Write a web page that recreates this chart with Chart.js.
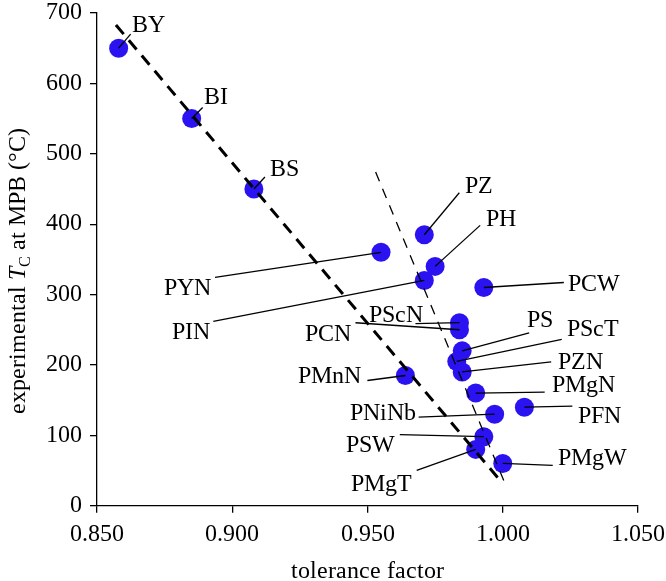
<!DOCTYPE html>
<html>
<head>
<meta charset="utf-8">
<script src="https://cdn.jsdelivr.net/npm/chart.js@4.4.0/dist/chart.umd.min.js"></script>
<style>
  @font-face {
    font-family: 'PlotSerif';
    src: local('Liberation Serif'), local('LiberationSerif'), local('LiberationSerif-Regular'), local('Times New Roman');
    font-style: normal;
  }
  @font-face {
    font-family: 'PlotSerif';
    src: local('Liberation Serif Italic'), local('LiberationSerif-Italic');
    font-style: italic;
  }
  html, body { margin: 0; padding: 0; background: #fff; }
  #wrap { width: 666px; height: 581px; }
</style>
</head>
<body>
<div id="wrap"><canvas id="chart"></canvas></div>
<script>
const compounds = ['BY', 'BI', 'BS', 'PZ', 'PYN', 'PH', 'PIN', 'PCW', 'PScN', 'PCN',
  'PS', 'PScT', 'PZN', 'PMnN', 'PMgN', 'PNiNb', 'PFN', 'PSW', 'PMgT', 'PMgW'];
const tolerance = [0.858, 0.885, 0.908, 0.971, 0.955, 0.975, 0.971, 0.993, 0.984, 0.984,
  0.985, 0.983, 0.985, 0.964, 0.990, 0.997, 1.008, 0.993, 0.990, 1.000];
const tcMPB = [650, 550, 450, 385, 360, 340, 320, 310, 260, 250,
  220, 205, 190, 185, 160, 130, 140, 98, 80, 60];

const xTicks = [0.850, 0.900, 0.950, 1.000, 1.050];
const yTicks = [0, 100, 200, 300, 400, 500, 600, 700];

// the two dashed guide lines
const trendX = [0.857, 0.999];
const trendY = [683, 36];
const steepX = [0.953, 1.001];
const steepY = [474, 30];

// leader line end (dx, dy) and label anchor (dx, dy, align), px from the point
const labelPlace = {
  BY:    [12, -14, 13, -16, 'left'],
  BI:    [11, -11, 12, -15, 'left'],
  BS:    [11, -12, 16, -13, 'left'],
  PZ:    [35, -42, 41, -42, 'left'],
  PH:    [45, -41, 51, -40, 'left'],
  PCW:   [80, -5, 84, 3, 'left'],
  PYN:   [-166, 25, -170, 43, 'right'],
  PIN:   [-211, 41, -214, 59, 'right'],
  PScN:  [-44, 1, -90, -1, 'left'],
  PCN:   [-104, -7, -108, 11, 'right'],
  PMnN:  [-38, 5, -44, 8, 'right'],
  PS:    [67, -18, 65, -24, 'left'],
  PScT:  [105, -22, 110, -25, 'left'],
  PZN:   [89, -10, 96, -3, 'left'],
  PMgN:  [69, -1, 76, -1, 'left'],
  PFN:   [48, -1, 54, 16, 'left'],
  PMgW:  [50, 2, 55, 2, 'left'],
  PNiNb: [-76, 3, -79, 6, 'right'],
  PSW:   [-84, -2, -89, 15, 'right'],
  PMgT:  [-59, 21, -64, 42, 'right']
};

const serif = "PlotSerif, 'Liberation Serif', 'Times New Roman', Times, serif";

const labelsPlugin = {
  id: 'pointLabels',
  afterDatasetsDraw(chart) {
    const ctx = chart.ctx;
    const x = chart.scales.x, y = chart.scales.y;
    ctx.save();
    ctx.strokeStyle = '#000';
    ctx.lineWidth = 1.3;
    ctx.fillStyle = '#000';
    ctx.font = '24px ' + serif;
    ctx.textBaseline = 'alphabetic';
    compounds.forEach((name, i) => {
      const px = x.getPixelForValue(tolerance[i]);
      const py = y.getPixelForValue(tcMPB[i]);
      const p = labelPlace[name];
      ctx.beginPath();
      ctx.moveTo(px, py);
      ctx.lineTo(px + p[0], py + p[1]);
      ctx.stroke();
      ctx.textAlign = p[4];
      ctx.fillText(name, px + p[2], py + p[3]);
    });
    ctx.restore();
  },
  afterDraw(chart) {
    const ctx = chart.ctx;
    const area = chart.chartArea;
    ctx.save();
    ctx.fillStyle = '#000';
    // x title
    ctx.font = '24px ' + serif;
    ctx.textAlign = 'center';
    ctx.textBaseline = 'alphabetic';
    ctx.fillText('tolerance factor', (area.left + area.right) / 2, 578);
    // y title with italic T and subscript C
    const parts = [
      { t: 'experimental ', f: '24px ' + serif, dy: 0 },
      { t: 'T', f: 'italic 24px ' + serif, dy: 0 },
      { t: 'C', f: '16px ' + serif, dy: 5 },
      { t: ' at MPB (°C)', f: '24px ' + serif, dy: 0 }
    ];
    let total = 0;
    parts.forEach(pt => { ctx.font = pt.f; pt.w = ctx.measureText(pt.t).width; total += pt.w; });
    ctx.translate(25, 271);
    ctx.rotate(-Math.PI / 2);
    ctx.textAlign = 'left';
    let cx = -total / 2;
    parts.forEach(pt => {
      ctx.font = pt.f;
      ctx.fillText(pt.t, cx, pt.dy);
      cx += pt.w;
    });
    ctx.restore();
  }
};

const axisLook = {
  grid: { display: true, drawOnChartArea: false, drawTicks: true, tickLength: 7, color: '#000', lineWidth: 1.3 },
  border: { display: true, color: '#000', width: 1.3 }
};

function draw() {
  Chart.defaults.font.family = serif;
  Chart.defaults.font.size = 24;
  Chart.defaults.color = '#000';

  new Chart(document.getElementById('chart'), {
    type: 'scatter',
    data: {
      datasets: [
        {
          type: 'line',
          data: trendX.map((v, i) => ({ x: v, y: trendY[i] })),
          borderColor: '#000',
          borderWidth: 3,
          borderDash: [12, 8],
          pointRadius: 0,
          fill: false,
          order: 0
        },
        {
          type: 'line',
          data: steepX.map((v, i) => ({ x: v, y: steepY[i] })),
          borderColor: '#000',
          borderWidth: 1.3,
          borderDash: [10, 8],
          pointRadius: 0,
          fill: false,
          order: 1
        },
        {
          data: tolerance.map((v, i) => ({ x: v, y: tcMPB[i] })),
          backgroundColor: '#2b12f0',
          borderWidth: 0,
          pointRadius: 9.5,
          pointHoverRadius: 9.5,
          order: 2
        }
      ]
    },
    options: {
      responsive: true,
      maintainAspectRatio: false,
      animation: false,
      layout: { padding: { top: 13, right: 28, left: 0, bottom: 0 } },
      plugins: { legend: { display: false }, tooltip: { enabled: false } },
      scales: {
        x: {
          type: 'linear',
          min: 0.85,
          max: 1.05,
          ...axisLook,
          afterBuildTicks: s => { s.ticks = xTicks.map(v => ({ value: v })); },
          afterFit: s => { s.height = 75.3; s.paddingLeft = 0; s.paddingRight = 0; },
          ticks: {
            padding: 10,
            maxRotation: 0,
            font: { size: 24, lineHeight: 1 },
            callback: v => Number(v).toFixed(3)
          }
        },
        y: {
          type: 'linear',
          min: 0,
          max: 700,
          ...axisLook,
          afterBuildTicks: s => { s.ticks = yTicks.map(v => ({ value: v })); },
          afterFit: s => { s.width = 97; s.paddingTop = 0; s.paddingBottom = 0; },
          ticks: {
            padding: 8,
            font: { size: 24, lineHeight: 1 }
          }
        }
      }
    },
    plugins: [labelsPlugin]
  });
}

Promise.all([
  document.fonts.load('24px PlotSerif'),
  document.fonts.load('italic 24px PlotSerif')
]).catch(() => {}).then(draw);
</script>
</body>
</html>
